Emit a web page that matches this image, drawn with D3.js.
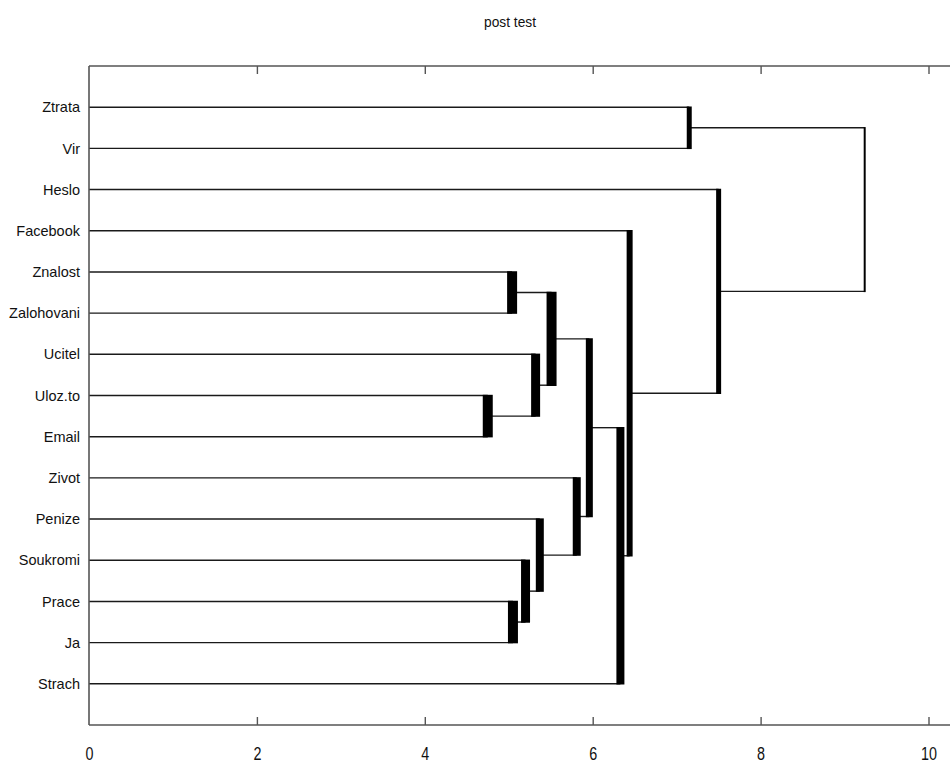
<!DOCTYPE html>
<html>
<head>
<meta charset="utf-8">
<script src="https://cdn.jsdelivr.net/npm/d3@7"></script>
<style>
  html, body { margin: 0; padding: 0; background: #fff; }
  svg { display: block; }
  text { font-family: "Liberation Sans", Arial, sans-serif; fill: #111; }
</style>
</head>
<body>
<svg id="chart" width="950" height="767"></svg>
<script>
// Leaf labels listed from the bottom of the plot (position 1) to the top (position 15)
const leafLabels = ["Strach", "Ja", "Prace", "Soukromi", "Penize", "Zivot", "Email",
  "Uloz.to", "Ucitel", "Zalohovani", "Znalost", "Facebook", "Heslo", "Vir", "Ztrata"];

// Linkage: node ids 0..14 are leaves, 15.. are merged clusters in order
const mergeA      = [6,    10,   1,    3,    8,    4,    16,   5,    21,   0,    11,   14,   12,   26];
const mergeB      = [7,    9,    2,    17,   15,   18,   19,   20,   22,   23,   24,   13,   25,   27];
const mergeHeight = [4.75, 5.04, 5.05, 5.20, 5.32, 5.37, 5.51, 5.81, 5.96, 6.33, 6.44, 7.15, 7.50, 9.24];

const xTicks = [0, 2, 4, 6, 8, 10];
const title = "post test";

// Stroke width of each cluster's vertical connector
const connectorWidth = [10, 10, 10, 9, 9, 8, 10, 8, 7, 8, 6, 5, 5, 2];

const svg = d3.select("#chart");
const plotLeft = 89, plotTop = 66, plotBottom = 725;
const x = d3.scaleLinear().domain([0, 10]).range([plotLeft, 928.5]);
const y = d3.scaleLinear().domain([0, 16]).range([plotBottom, plotTop]);

// Title
svg.append("text")
  .attr("x", 510).attr("y", 27)
  .attr("text-anchor", "middle")
  .attr("font-size", 14.5)
  .attr("transform", "translate(510,0) scale(0.95,1) translate(-510,0)")
  .text(title);

// Compute position (leaf slot) and height for every node
const nLeaves = leafLabels.length;
const pos = [], hgt = [];
leafLabels.forEach((d, i) => { pos[i] = i + 1; hgt[i] = 0; });
mergeHeight.forEach((h, k) => {
  const id = nLeaves + k;
  pos[id] = (pos[mergeA[k]] + pos[mergeB[k]]) / 2;
  hgt[id] = h;
});

const g = svg.append("g");

// Horizontal branches from each child to its parent's height
mergeHeight.forEach((h, k) => {
  [mergeA[k], mergeB[k]].forEach(c => {
    g.append("line")
      .attr("x1", x(hgt[c])).attr("x2", x(h))
      .attr("y1", y(pos[c])).attr("y2", y(pos[c]))
      .attr("stroke", "#1a1a1a").attr("stroke-width", 1.4);
  });
});

// Vertical connectors
mergeHeight.forEach((h, k) => {
  const ya = y(pos[mergeA[k]]), yb = y(pos[mergeB[k]]);
  const w = connectorWidth[k];
  g.append("line")
    .attr("x1", x(h)).attr("x2", x(h))
    .attr("y1", Math.min(ya, yb) - 0.7).attr("y2", Math.max(ya, yb) + 0.7)
    .attr("stroke", "#000").attr("stroke-width", w);
});

// Axes frame: left, top and bottom edges
const axisColor = "#555";
svg.append("line").attr("x1", plotLeft).attr("x2", plotLeft).attr("y1", plotTop).attr("y2", plotBottom)
  .attr("stroke", axisColor).attr("stroke-width", 1.6);
svg.append("line").attr("x1", plotLeft).attr("x2", 950).attr("y1", plotTop).attr("y2", plotTop)
  .attr("stroke", axisColor).attr("stroke-width", 1.6);
svg.append("line").attr("x1", plotLeft).attr("x2", 950).attr("y1", plotBottom).attr("y2", plotBottom)
  .attr("stroke", axisColor).attr("stroke-width", 1.6);

// Bottom axis with inward ticks
const xAxis = d3.axisBottom(x).tickValues(xTicks).tickSize(-8).tickPadding(23)
  .tickFormat(d3.format("d"));
const ax = svg.append("g").attr("transform", `translate(0,${plotBottom})`).call(xAxis);
ax.select(".domain").remove();
ax.selectAll(".tick line").attr("stroke", axisColor).attr("stroke-width", 1.4)
  .filter(d => d === 0).remove();
ax.selectAll(".tick text").attr("font-size", 17.5)
  .attr("transform", "scale(0.82,1)")
  .attr("font-family", "'Liberation Sans', Arial, sans-serif").attr("fill", "#111");

// Top edge ticks
const axTop = svg.append("g").attr("transform", `translate(0,${plotTop})`)
  .call(d3.axisTop(x).tickValues(xTicks.filter(d => d > 0)).tickSize(-8).tickFormat(""));
axTop.select(".domain").remove();
axTop.selectAll(".tick line").attr("stroke", axisColor).attr("stroke-width", 1.4);

// Leaf labels
const yAxis = d3.axisLeft(y).tickValues(d3.range(1, nLeaves + 1)).tickSize(0).tickPadding(9)
  .tickFormat(d => leafLabels[d - 1]);
const ay = svg.append("g").attr("transform", `translate(${plotLeft},0)`).call(yAxis);
ay.select(".domain").remove();
ay.selectAll(".tick text").attr("font-size", 14.5)
  .attr("font-family", "'Liberation Sans', Arial, sans-serif").attr("fill", "#111");
</script>
</body>
</html>
